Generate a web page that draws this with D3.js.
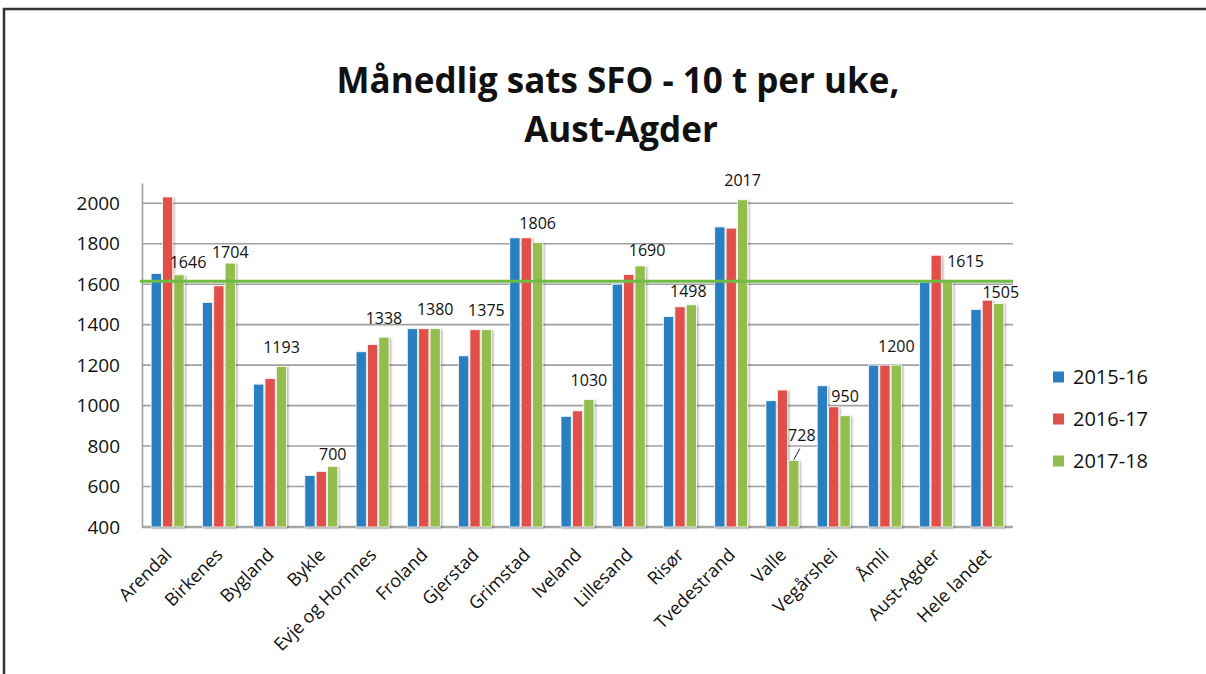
<!DOCTYPE html>
<html>
<head>
<meta charset="utf-8">
<script src="https://cdn.jsdelivr.net/npm/d3@7"></script>
<style>
  body { margin: 0; background: #fff; }
  text { font-family: "Open Sans", "Noto Sans", sans-serif; fill: #111; }
</style>
</head>
<body>
<div id="chart"></div>
<script>
// values
var categories = ["Arendal", "Birkenes", "Bygland", "Bykle", "Evje og Hornnes", "Froland", "Gjerstad",
  "Grimstad", "Iveland", "Lillesand", "Risør", "Tvedestrand", "Valle", "Vegårshei", "Åmli",
  "Aust-Agder", "Hele landet"];
var seriesNames = ["2015-16", "2016-17", "2017-18"];
var values1516 = [1653, 1510, 1106, 655, 1266, 1380, 1246, 1829, 947, 1600, 1440, 1883, 1024, 1098, 1200, 1610, 1475];
var values1617 = [2031, 1592, 1134, 675, 1302, 1380, 1375, 1829, 974, 1648, 1488, 1877, 1077, 994, 1200, 1743, 1521];
var values1718 = [1646, 1704, 1193, 700, 1338, 1380, 1375, 1806, 1030, 1690, 1498, 2017, 728, 950, 1200, 1615, 1505];
var referenceLine = 1615;
var yTicks = [400, 600, 800, 1000, 1200, 1400, 1600, 1800, 2000];

var colors = ["#2a7fc1", "#e0504a", "#93bd4d"];
var width = 1206, height = 674;
var margin = {top: 183, right: 193, bottom: 147, left: 142};

var svg = d3.select("#chart").append("svg")
    .attr("width", width)
    .attr("height", height);

var defs = svg.append("defs");
defs.append("filter").attr("id", "shadow")
    .attr("x", "-30%").attr("y", "-10%").attr("width", "160%").attr("height", "130%")
  .append("feDropShadow")
    .attr("dx", 1.5).attr("dy", 1).attr("stdDeviation", 1)
    .attr("flood-color", "#000").attr("flood-opacity", 0.3);

// outer frame
svg.append("rect")
    .attr("x", 4).attr("y", 9)
    .attr("width", width + 10).attr("height", height + 10)
    .attr("fill", "none").attr("stroke", "#333").attr("stroke-width", 2.5);

// title
var title = svg.append("text")
    .attr("text-anchor", "middle")
    .attr("font-weight", "bold")
    .style("font-size", "35px");
title.append("tspan").attr("x", 618).attr("y", 93).text("Månedlig sats SFO - 10 t per uke,");
title.append("tspan").attr("x", 621).attr("y", 142).text("Aust-Agder");

var x0 = d3.scaleBand()
    .domain(categories)
    .range([margin.left, width - margin.right]);

var x1 = d3.scaleBand()
    .domain(seriesNames)
    .range([-16.5, 16.5])
    .paddingInner(0.1);

var y = d3.scaleLinear()
    .domain([400, 2100])
    .range([height - margin.bottom, margin.top]);

// gridlines
svg.append("g").selectAll("line")
    .data(yTicks)
    .enter().append("line")
    .attr("x1", margin.left).attr("x2", width - margin.right)
    .attr("y1", function(d) { return y(d); })
    .attr("y2", function(d) { return y(d); })
    .attr("stroke", function(d) { return d === 400 ? "#a6a6a6" : "#a0a0a0"; })
    .attr("stroke-width", function(d) { return d === 400 ? 2.5 : 1.6; });

// y axis
var yAxis = svg.append("g")
    .attr("transform", "translate(" + margin.left + ",0)")
    .call(d3.axisLeft(y).tickValues(yTicks).tickFormat(d3.format("d")).tickSize(0).tickPadding(22));
yAxis.select(".domain").attr("stroke", "#a0a0a0").attr("stroke-width", 1.6);
yAxis.selectAll("text")
    .style("font-size", "19px")
    .style("font-family", "'Open Sans', sans-serif")
    .attr("fill", "#111");

// bars
var table = categories.map(function(c, i) {
  return {category: c, values: [values1516[i], values1617[i], values1718[i]]};
});

var groups = svg.append("g").selectAll("g.group")
    .data(table)
    .enter().append("g")
    .attr("class", "group")
    .attr("transform", function(d) { return "translate(" + (x0(d.category) + x0.bandwidth() / 2) + ",0)"; });

groups.selectAll("rect")
    .data(function(d) { return d.values.map(function(v, j) { return {series: seriesNames[j], value: v, j: j}; }); })
    .enter().append("rect")
    .attr("x", function(d) { return x1(d.series); })
    .attr("width", x1.bandwidth())
    .attr("y", function(d) { return y(d.value); })
    .attr("height", function(d) { return y(400) - y(d.value); })
    .attr("fill", function(d) { return colors[d.j]; })
    .attr("stroke", "#fff")
    .attr("stroke-width", 0.8)
    .attr("filter", "url(#shadow)");

// average line
svg.append("line")
    .attr("x1", margin.left - 2).attr("x2", width - margin.right)
    .attr("y1", y(referenceLine)).attr("y2", y(referenceLine))
    .attr("stroke", "#6dbd45")
    .attr("stroke-width", 3);

// data labels on 2017-18 series (some were moved by hand in the original)
var nudge = {
  "Arendal": [9, 7], "Birkenes": [0, 8], "Bykle": [0, 7], "Lillesand": [7, 4],
  "Risør": [-3, 6], "Valle": [8, -6], "Aust-Agder": [18, -1], "Hele landet": [2, 8]
};
groups.append("text")
    .attr("text-anchor", "middle")
    .style("font-size", "16px")
    .attr("x", function(d) { return x1("2017-18") + x1.bandwidth() / 2 + (nudge[d.category] ? nudge[d.category][0] : 0); })
    .attr("y", function(d, i) { return y(values1718[i]) - 13.5 + (nudge[d.category] ? nudge[d.category][1] : 0); })
    .text(function(d, i) { return values1718[i]; });

// leader line for Valle
var valle = categories.indexOf("Valle");
svg.append("line")
    .attr("x1", x0("Valle") + x0.bandwidth() / 2 + x1("2017-18") + x1.bandwidth() / 2)
    .attr("y1", y(values1718[valle]) - 1)
    .attr("x2", x0("Valle") + x0.bandwidth() / 2 + x1("2017-18") + x1.bandwidth() / 2 + 6)
    .attr("y2", y(values1718[valle]) - 12)
    .attr("stroke", "#222").attr("stroke-width", 1);

// category labels
svg.append("g").selectAll("text")
    .data(categories)
    .enter().append("text")
    .attr("text-anchor", "end")
    .style("font-size", "18px")
    .attr("transform", function(d) {
      return "translate(" + (x0(d) + x0.bandwidth() / 2 + 5) + "," + (height - margin.bottom + 29) + ") rotate(-45)";
    })
    .text(function(d) { return d; });

// legend
var legend = svg.append("g").selectAll("g")
    .data(seriesNames)
    .enter().append("g")
    .attr("transform", function(d, i) { return "translate(1053," + (377 + i * 42) + ")"; });
legend.append("rect")
    .attr("x", 0).attr("y", -5.5)
    .attr("width", 11).attr("height", 11)
    .attr("fill", function(d, i) { return colors[i]; });
legend.append("text")
    .attr("x", 20).attr("dy", "0.35em")
    .style("font-size", "20px")
    .text(function(d) { return d; });
</script>
</body>
</html>
